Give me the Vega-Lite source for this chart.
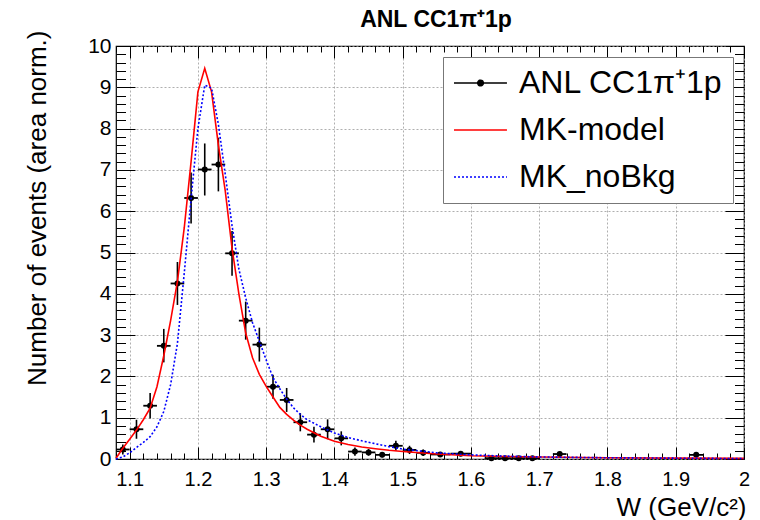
{
  "$schema": "https://vega.github.io/schema/vega-lite/v6.json",
  "width": 628,
  "height": 413,
  "autosize": {"type": "none"},
  "padding": {"left": 116, "top": 46, "right": 16, "bottom": 61},
  "background": "white",
  "config": {
    "font": "Liberation Sans",
    "view": {"stroke": "black", "strokeWidth": 1.2},
    "axis": {
      "domain": false,
      "labelFont": "Liberation Sans",
      "labelColor": "black",
      "titleFont": "Liberation Sans",
      "titleFontWeight": "normal",
      "titleColor": "black",
      "tickColor": "black",
      "tickWidth": 1,
      "gridColor": "#9a9a9a",
      "gridDash": [2, 2],
      "gridWidth": 0.8
    },
    "legend": {
      "title": null,
      "orient": "none", "legendX": 327, "legendY": 11,
      "padding": 10,
      "labelFont": "Liberation Sans", "labelFontSize": 32, "labelColor": "black", "labelLimit": 400,
      "labelOffset": 34,
      "symbolSize": 900, "symbolStrokeWidth": 1.5, "symbolOpacity": 1,
      "rowPadding": 15,
      "strokeColor": "#777777", "fillColor": "white"
    }
  },
  "title": {
    "text": "ANL CC1π⁺1p",
    "font": "Liberation Sans",
    "fontSize": 23,
    "fontWeight": "bold",
    "color": "black",
    "anchor": "middle",
    "baseline": "alphabetic",
    "offset": 0,
    "dy": 20,
    "dx": 6
  },
  "datasets": {
    "anl": [
      {"W": 1.09, "y": 0.23, "ylo": 0.11, "yhi": 0.35, "wlo": 1.08, "whi": 1.10},
      {"W": 1.11, "y": 0.72, "ylo": 0.49, "yhi": 0.95, "wlo": 1.10, "whi": 1.12},
      {"W": 1.13, "y": 1.29, "ylo": 0.98, "yhi": 1.60, "wlo": 1.12, "whi": 1.14},
      {"W": 1.15, "y": 2.74, "ylo": 2.34, "yhi": 3.15, "wlo": 1.14, "whi": 1.16},
      {"W": 1.17, "y": 4.25, "ylo": 3.73, "yhi": 4.77, "wlo": 1.16, "whi": 1.18},
      {"W": 1.19, "y": 6.32, "ylo": 5.70, "yhi": 6.94, "wlo": 1.18, "whi": 1.20},
      {"W": 1.21, "y": 7.01, "ylo": 6.38, "yhi": 7.64, "wlo": 1.20, "whi": 1.22},
      {"W": 1.23, "y": 7.13, "ylo": 6.48, "yhi": 7.78, "wlo": 1.22, "whi": 1.24},
      {"W": 1.25, "y": 4.98, "ylo": 4.44, "yhi": 5.52, "wlo": 1.24, "whi": 1.26},
      {"W": 1.27, "y": 3.35, "ylo": 2.89, "yhi": 3.81, "wlo": 1.26, "whi": 1.28},
      {"W": 1.29, "y": 2.77, "ylo": 2.36, "yhi": 3.18, "wlo": 1.28, "whi": 1.30},
      {"W": 1.31, "y": 1.75, "ylo": 1.46, "yhi": 2.04, "wlo": 1.30, "whi": 1.32},
      {"W": 1.33, "y": 1.43, "ylo": 1.14, "yhi": 1.72, "wlo": 1.32, "whi": 1.34},
      {"W": 1.35, "y": 0.89, "ylo": 0.67, "yhi": 1.11, "wlo": 1.34, "whi": 1.36},
      {"W": 1.37, "y": 0.59, "ylo": 0.40, "yhi": 0.78, "wlo": 1.36, "whi": 1.38},
      {"W": 1.39, "y": 0.72, "ylo": 0.48, "yhi": 0.96, "wlo": 1.38, "whi": 1.40},
      {"W": 1.41, "y": 0.50, "ylo": 0.33, "yhi": 0.67, "wlo": 1.40, "whi": 1.42},
      {"W": 1.43, "y": 0.18, "ylo": 0.08, "yhi": 0.28, "wlo": 1.42, "whi": 1.44},
      {"W": 1.45, "y": 0.16, "ylo": 0.08, "yhi": 0.24, "wlo": 1.44, "whi": 1.46},
      {"W": 1.47, "y": 0.10, "ylo": 0.04, "yhi": 0.16, "wlo": 1.46, "whi": 1.48},
      {"W": 1.49, "y": 0.32, "ylo": 0.20, "yhi": 0.44, "wlo": 1.48, "whi": 1.50},
      {"W": 1.51, "y": 0.22, "ylo": 0.12, "yhi": 0.32, "wlo": 1.50, "whi": 1.52},
      {"W": 1.53, "y": 0.15, "ylo": 0.07, "yhi": 0.23, "wlo": 1.52, "whi": 1.54},
      {"W": 1.555, "y": 0.11, "ylo": 0.05, "yhi": 0.17, "wlo": 1.54, "whi": 1.57},
      {"W": 1.585, "y": 0.13, "ylo": 0.07, "yhi": 0.19, "wlo": 1.57, "whi": 1.60},
      {"W": 1.63, "y": 0.02, "ylo": 0.0, "yhi": 0.04, "wlo": 1.62, "whi": 1.64},
      {"W": 1.65, "y": 0.02, "ylo": 0.0, "yhi": 0.04, "wlo": 1.64, "whi": 1.66},
      {"W": 1.67, "y": 0.02, "ylo": 0.0, "yhi": 0.04, "wlo": 1.66, "whi": 1.68},
      {"W": 1.69, "y": 0.02, "ylo": 0.0, "yhi": 0.04, "wlo": 1.68, "whi": 1.70},
      {"W": 1.73, "y": 0.12, "ylo": 0.06, "yhi": 0.18, "wlo": 1.72, "whi": 1.74},
      {"W": 1.93, "y": 0.10, "ylo": 0.05, "yhi": 0.15, "wlo": 1.92, "whi": 1.94}
    ],
    "mk": [
      {"W": 1.08, "y": 0.02}, {"W": 1.09, "y": 0.26}, {"W": 1.10, "y": 0.48},
      {"W": 1.11, "y": 0.70}, {"W": 1.12, "y": 0.95}, {"W": 1.13, "y": 1.23},
      {"W": 1.14, "y": 1.75}, {"W": 1.15, "y": 2.5}, {"W": 1.16, "y": 3.35},
      {"W": 1.17, "y": 4.3}, {"W": 1.18, "y": 5.6}, {"W": 1.19, "y": 7.2},
      {"W": 1.20, "y": 8.89}, {"W": 1.21, "y": 9.46}, {"W": 1.22, "y": 8.89},
      {"W": 1.23, "y": 7.6}, {"W": 1.24, "y": 6.5}, {"W": 1.25, "y": 5.1},
      {"W": 1.26, "y": 4.0}, {"W": 1.27, "y": 3.05}, {"W": 1.28, "y": 2.45},
      {"W": 1.29, "y": 2.05}, {"W": 1.30, "y": 1.76}, {"W": 1.31, "y": 1.5},
      {"W": 1.32, "y": 1.25}, {"W": 1.33, "y": 1.08}, {"W": 1.34, "y": 0.94},
      {"W": 1.35, "y": 0.82}, {"W": 1.36, "y": 0.72}, {"W": 1.38, "y": 0.55},
      {"W": 1.40, "y": 0.43}, {"W": 1.42, "y": 0.35}, {"W": 1.44, "y": 0.29},
      {"W": 1.46, "y": 0.25}, {"W": 1.48, "y": 0.21}, {"W": 1.50, "y": 0.18},
      {"W": 1.55, "y": 0.12}, {"W": 1.60, "y": 0.08}, {"W": 1.65, "y": 0.06},
      {"W": 1.70, "y": 0.05}, {"W": 1.80, "y": 0.03}, {"W": 1.90, "y": 0.02},
      {"W": 2.0, "y": 0.015}
    ],
    "nobkg": [
      {"W": 1.08, "y": 0.0}, {"W": 1.09, "y": 0.05}, {"W": 1.10, "y": 0.15},
      {"W": 1.11, "y": 0.28}, {"W": 1.12, "y": 0.4}, {"W": 1.13, "y": 0.54},
      {"W": 1.14, "y": 0.78}, {"W": 1.15, "y": 1.15}, {"W": 1.16, "y": 1.8},
      {"W": 1.17, "y": 2.8}, {"W": 1.18, "y": 4.5}, {"W": 1.19, "y": 6.3},
      {"W": 1.20, "y": 8.0}, {"W": 1.21, "y": 9.05}, {"W": 1.22, "y": 8.98},
      {"W": 1.23, "y": 8.1}, {"W": 1.24, "y": 6.9}, {"W": 1.25, "y": 5.65},
      {"W": 1.26, "y": 4.6}, {"W": 1.27, "y": 3.9}, {"W": 1.28, "y": 3.3},
      {"W": 1.29, "y": 2.85}, {"W": 1.30, "y": 2.4}, {"W": 1.31, "y": 1.97},
      {"W": 1.32, "y": 1.7}, {"W": 1.33, "y": 1.45}, {"W": 1.34, "y": 1.24},
      {"W": 1.35, "y": 1.08}, {"W": 1.36, "y": 0.95}, {"W": 1.38, "y": 0.78},
      {"W": 1.40, "y": 0.63}, {"W": 1.42, "y": 0.52}, {"W": 1.44, "y": 0.44},
      {"W": 1.46, "y": 0.37}, {"W": 1.48, "y": 0.3}, {"W": 1.50, "y": 0.24},
      {"W": 1.55, "y": 0.15}, {"W": 1.60, "y": 0.1}, {"W": 1.65, "y": 0.07},
      {"W": 1.70, "y": 0.05}, {"W": 1.80, "y": 0.03}, {"W": 1.90, "y": 0.02},
      {"W": 2.0, "y": 0.01}
    ]
  },
  "layer": [
    {
      "data": {"name": "anl"},
      "mark": {"type": "rule", "color": "black", "strokeWidth": 1.6},
      "encoding": {
        "x": {
          "field": "W", "type": "quantitative",
          "scale": {"domain": [1.08, 2], "nice": false, "zero": false},
          "axis": {
            "orient": "bottom",
            "values": [1.1, 1.2, 1.3, 1.4, 1.5, 1.6, 1.7, 1.8, 1.9, 2.0],
            "format": "~g",
            "grid": true, "ticks": false,
            "labelFontSize": 20, "labelPadding": 10, "labelFlush": false,
            "title": "W (GeV/c²)", "titleFontSize": 26,
            "titleX": 630, "titleY": 56, "titleAlign": "right", "titleBaseline": "alphabetic"
          }
        },
        "y": {
          "field": "ylo", "type": "quantitative",
          "scale": {"domain": [0, 10], "nice": false, "zero": true},
          "axis": {
            "orient": "left",
            "values": [0, 1, 2, 3, 4, 5, 6, 7, 8, 9, 10],
            "grid": true, "ticks": false,
            "labelFontSize": 21, "labelPadding": 5, "labelFlush": false,
            "title": "Number of events (area norm.)", "titleFontSize": 26,
            "titleX": -66, "titleY": -16, "titleAlign": "right", "titleBaseline": "bottom", "titleAngle": 270
          }
        },
        "y2": {"field": "yhi"}
      }
    },
    {
      "data": {"name": "anl"},
      "mark": {"type": "rule", "color": "black", "strokeWidth": 1.8},
      "encoding": {
        "x": {
          "field": "wlo", "type": "quantitative",
          "scale": {"domain": [1.08, 2], "nice": false, "zero": false},
          "axis": {
            "orient": "bottom",
            "values": [1.1, 1.2, 1.3, 1.4, 1.5, 1.6, 1.7, 1.8, 1.9, 2.0],
            "grid": false, "labels": false, "title": null, "tickSize": -12
          }
        },
        "x2": {"field": "whi"},
        "y": {
          "field": "y", "type": "quantitative",
          "scale": {"domain": [0, 10], "nice": false},
          "axis": {
            "orient": "left",
            "values": [0, 1, 2, 3, 4, 5, 6, 7, 8, 9, 10],
            "grid": false, "labels": false, "title": null, "tickSize": -19
          }
        }
      }
    },
    {
      "data": {"name": "anl"},
      "mark": {"type": "circle", "size": 36, "opacity": 1},
      "encoding": {
        "x": {
          "field": "W", "type": "quantitative",
          "scale": {"domain": [1.08, 2], "nice": false, "zero": false},
          "axis": {
            "orient": "top",
            "values": [1.1, 1.2, 1.3, 1.4, 1.5, 1.6, 1.7, 1.8, 1.9, 2.0],
            "grid": false, "labels": false, "title": null, "tickSize": -12
          }
        },
        "y": {
          "field": "y", "type": "quantitative",
          "scale": {"domain": [0, 10], "nice": false},
          "axis": {
            "orient": "right",
            "values": [0, 1, 2, 3, 4, 5, 6, 7, 8, 9, 10],
            "grid": false, "labels": false, "title": null, "tickSize": -19
          }
        },
        "color": {
          "datum": "ANL CC1π⁺1p", "type": "nominal",
          "scale": {"domain": ["ANL CC1π⁺1p", "MK-model", "MK_noBkg"], "range": ["black", "#ff0000", "#0000ff"]},
          "legend": {"title": null}
        }
      }
    },
    {
      "data": {"name": "mk"},
      "mark": {"type": "line", "strokeWidth": 1.6},
      "encoding": {
        "x": {
          "field": "W", "type": "quantitative",
          "scale": {"domain": [1.08, 2], "nice": false, "zero": false},
          "axis": {
            "orient": "bottom",
            "values": [1.08, 1.12, 1.14, 1.16, 1.18, 1.22, 1.24, 1.26, 1.28, 1.32, 1.34, 1.36, 1.38, 1.42, 1.44, 1.46, 1.48, 1.52, 1.54, 1.56, 1.58, 1.62, 1.64, 1.66, 1.68, 1.72, 1.74, 1.76, 1.78, 1.82, 1.84, 1.86, 1.88, 1.92, 1.94, 1.96, 1.98],
            "grid": false, "labels": false, "title": null, "tickSize": -6
          }
        },
        "y": {
          "field": "y", "type": "quantitative",
          "scale": {"domain": [0, 10], "nice": false},
          "axis": {
            "orient": "left",
            "values": [0.2, 0.4, 0.6, 0.8, 1.2, 1.4, 1.6, 1.8, 2.2, 2.4, 2.6, 2.8, 3.2, 3.4, 3.6, 3.8, 4.2, 4.4, 4.6, 4.8, 5.2, 5.4, 5.6, 5.8, 6.2, 6.4, 6.6, 6.8, 7.2, 7.4, 7.6, 7.8, 8.2, 8.4, 8.6, 8.8, 9.2, 9.4, 9.6, 9.8],
            "grid": false, "labels": false, "title": null, "tickSize": -9.5
          }
        },
        "color": {"datum": "MK-model", "type": "nominal", "legend": {"title": null}}
      }
    },
    {
      "data": {"name": "nobkg"},
      "mark": {"type": "line", "strokeWidth": 1.6},
      "encoding": {
        "x": {
          "field": "W", "type": "quantitative",
          "scale": {"domain": [1.08, 2], "nice": false, "zero": false},
          "axis": {
            "orient": "top",
            "values": [1.08, 1.12, 1.14, 1.16, 1.18, 1.22, 1.24, 1.26, 1.28, 1.32, 1.34, 1.36, 1.38, 1.42, 1.44, 1.46, 1.48, 1.52, 1.54, 1.56, 1.58, 1.62, 1.64, 1.66, 1.68, 1.72, 1.74, 1.76, 1.78, 1.82, 1.84, 1.86, 1.88, 1.92, 1.94, 1.96, 1.98],
            "grid": false, "labels": false, "title": null, "tickSize": -6
          }
        },
        "y": {
          "field": "y", "type": "quantitative",
          "scale": {"domain": [0, 10], "nice": false},
          "axis": {
            "orient": "right",
            "values": [0.2, 0.4, 0.6, 0.8, 1.2, 1.4, 1.6, 1.8, 2.2, 2.4, 2.6, 2.8, 3.2, 3.4, 3.6, 3.8, 4.2, 4.4, 4.6, 4.8, 5.2, 5.4, 5.6, 5.8, 6.2, 6.4, 6.6, 6.8, 7.2, 7.4, 7.6, 7.8, 8.2, 8.4, 8.6, 8.8, 9.2, 9.4, 9.6, 9.8],
            "grid": false, "labels": false, "title": null, "tickSize": -9.5
          }
        },
        "color": {"datum": "MK_noBkg", "type": "nominal", "legend": {"title": null}},
        "strokeDash": {
          "datum": "MK_noBkg", "type": "nominal",
          "scale": {"domain": ["ANL CC1π⁺1p", "MK-model", "MK_noBkg"], "range": [[1, 0], [1, 0], [2, 2]]},
          "legend": {"title": null}
        }
      }
    },
    {
      "data": {"values": []},
      "mark": {"type": "point", "filled": true, "opacity": 1},
      "encoding": {
        "color": {"datum": "ANL CC1π⁺1p", "type": "nominal", "legend": {"title": null}},
        "shape": {
          "datum": "ANL CC1π⁺1p", "type": "nominal",
          "scale": {
            "domain": ["ANL CC1π⁺1p", "MK-model", "MK_noBkg"],
            "range": ["M-1,0H2.53M0.58,0A0.19,0.19 0 1,0 0.96,0A0.19,0.19 0 1,0 0.58,0Z", "M-1,0H2.53", "M-1,0H2.53"]
          },
          "legend": {"title": null}
        }
      }
    }
  ],
  "resolve": {"axis": {"x": "independent", "y": "independent"}}
}
